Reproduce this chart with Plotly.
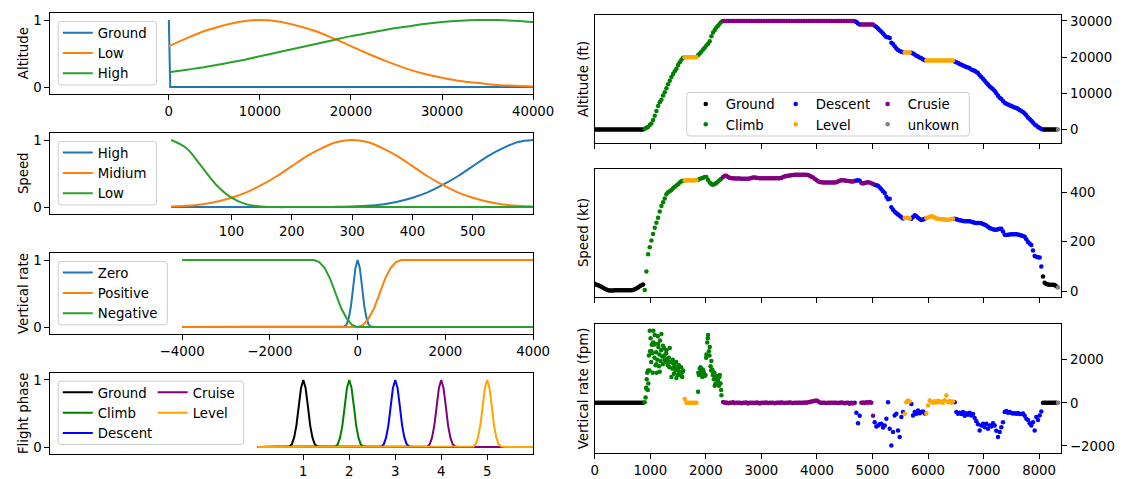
import plotly.graph_objects as go

W, H = 1141, 479
FONT = "DejaVu Sans"
FS = 13.3

# ---------------- Left column: membership functions ----------------
alt_mf_x = [0, 2000, 4000, 6000, 8000, 10000, 12000, 14000, 16000, 18000, 20000,
            22000, 24000, 26000, 28000, 30000, 32000, 34000, 36000, 38000, 40000]
alt_mf_low = [0.61, 0.73, 0.84, 0.92, 0.98, 1.0, 0.98, 0.92, 0.84, 0.73, 0.61,
              0.49, 0.38, 0.28, 0.20, 0.14, 0.09, 0.06, 0.03, 0.02, 0.01]
alt_mf_high = [0.22, 0.26, 0.30, 0.35, 0.40, 0.46, 0.52, 0.58, 0.64, 0.70, 0.76,
               0.81, 0.86, 0.90, 0.94, 0.97, 0.99, 1.0, 1.0, 0.99, 0.97]
alt_mf_ground_x = [0, 150, 40000]
alt_mf_ground = [1.0, 0.0, 0.0]
alt_mf_ticks = [0, 10000, 20000, 30000, 40000]
alt_mf_ticktext = ["0", "10000", "20000", "30000", "40000"]

spd_mf_x = [0, 25, 50, 75, 100, 125, 150, 175, 200, 225, 250, 275, 300,
            325, 350, 375, 400, 425, 450, 475, 500, 525, 550, 575, 600]
spd_mf_high = [0, 0, 0, 0, 0, 0, 0, 0, 0, 0, 0, 0.005, 0.01,
               0.02, 0.04, 0.08, 0.14, 0.22, 0.33, 0.46, 0.61, 0.76, 0.88, 0.97, 1.0]
spd_mf_mid = [0.01, 0.02, 0.04, 0.08, 0.14, 0.22, 0.33, 0.46, 0.61, 0.76, 0.88, 0.97, 1.0,
              0.97, 0.88, 0.76, 0.61, 0.46, 0.33, 0.22, 0.14, 0.08, 0.04, 0.02, 0.01]
spd_mf_low = [1.0, 0.88, 0.61, 0.33, 0.14, 0.04, 0.01, 0, 0, 0, 0, 0, 0,
              0, 0, 0, 0, 0, 0, 0, 0, 0, 0, 0, 0]
spd_mf_ticks = [100, 200, 300, 400, 500]
spd_mf_ticktext = ["100", "200", "300", "400", "500"]

vr_mf_zero_x = [-4000, -400, -350, -300, -250, -200, -150, -100, -50, 0,
                50, 100, 150, 200, 250, 300, 350, 400, 4000]
vr_mf_zero = [0, 0, 0.002, 0.01, 0.04, 0.14, 0.32, 0.61, 0.88, 1.0,
              0.88, 0.61, 0.32, 0.14, 0.04, 0.01, 0.002, 0, 0]
vr_mf_pos_x = [-4000, 0, 125, 250, 375, 500, 625, 750, 875, 1000, 4000]
vr_mf_pos = [0, 0, 0.03, 0.13, 0.28, 0.5, 0.72, 0.88, 0.97, 1.0, 1.0]
vr_mf_neg_x = [-4000, -1000, -875, -750, -625, -500, -375, -250, -125, 0, 4000]
vr_mf_neg = [1.0, 1.0, 0.97, 0.88, 0.72, 0.5, 0.28, 0.13, 0.03, 0, 0]
vr_mf_ticks = [-4000, -2000, 0, 2000, 4000]
vr_mf_ticktext = ["\u22124000", "\u22122000", "0", "2000", "4000"]

phase_mf_peak = [0, 0, 0.01, 0.04, 0.14, 0.32, 0.61, 0.88, 1.0, 0.88, 0.61, 0.32, 0.14, 0.04, 0.01, 0, 0]
phase_mf_ground_x = [0, 0.6, 0.7, 0.75, 0.8, 0.85, 0.9, 0.95, 1.0, 1.05, 1.1, 1.15, 1.2, 1.25, 1.3, 1.4, 6]
phase_mf_climb_x = [0, 1.6, 1.7, 1.75, 1.8, 1.85, 1.9, 1.95, 2.0, 2.05, 2.1, 2.15, 2.2, 2.25, 2.3, 2.4, 6]
phase_mf_descent_x = [0, 2.6, 2.7, 2.75, 2.8, 2.85, 2.9, 2.95, 3.0, 3.05, 3.1, 3.15, 3.2, 3.25, 3.3, 3.4, 6]
phase_mf_cruise_x = [0, 3.6, 3.7, 3.75, 3.8, 3.85, 3.9, 3.95, 4.0, 4.05, 4.1, 4.15, 4.2, 4.25, 4.3, 4.4, 6]
phase_mf_level_x = [0, 4.6, 4.7, 4.75, 4.8, 4.85, 4.9, 4.95, 5.0, 5.05, 5.1, 5.15, 5.2, 5.25, 5.3, 5.4, 6]
phase_mf_ticks = [1, 2, 3, 4, 5]
phase_mf_ticktext = ["1", "2", "3", "4", "5"]

# ---------------- Right column: flight data (30 s samples) ----------------
flight_time = list(range(0, 8341, 30))

altitude_ft = [
    0, 0, 0, 0, 0, 0, 0, 0, 0, 0, 0, 0, 0, 0, 0, 0, 0, 0, 0, 0, 0, 0, 0, 0, 0, 0, 0, 0, 0, 0,
    200, 450, 700, 1200, 1650, 2600, 3800, 5100, 6500, 7500, 8200, 9400, 10300, 11400, 12500,
    13500, 14500, 15300, 16100, 16800, 17800, 18600, 19300, 19800,
    20000, 20000, 20000, 20000, 20000, 20000, 20000, 20000,
    20500, 21000, 21500, 22100, 22600, 23200, 23700, 24400, 25800, 26800, 27500, 28200, 28700, 29200, 29800,
    30000, 30000, 30000, 30000, 30000, 30000, 30000, 30000, 30000, 30000,
    30000, 30000, 30000, 30000, 30000, 30000, 30000, 30000, 30000, 30000,
    30000, 30000, 30000, 30000, 30000, 30000, 30000, 30000, 30000, 30000,
    30000, 30000, 30000, 30000, 30000, 30000, 30000, 30000, 30000, 30000,
    30000, 30000, 30000, 30000, 30000, 30000, 30000, 30000, 30000, 30000,
    30000, 30000, 30000, 30000, 30000, 30000, 30000, 30000, 30000, 30000,
    30000, 30000, 30000, 30000, 30000, 30000, 30000, 30000, 30000, 30000,
    30000, 30000, 30000, 30000, 30000, 30000, 30000, 30000, 30000,
    29900, 29700, 29300, 29000,
    29000, 29000, 29000, 29000, 29000, 29000, 29000, 29000,
    28700, 28300, 27900, 27400, 27000, 26500, 26000, 25600, 25500, 25300, 24000, 23600, 23000,
    22400, 22000, 21700, 21500, 21350,
    21300, 21300, 21300, 21300,
    21200, 21000, 20700, 20400, 20200, 19900, 19700, 19400, 19150,
    19100, 19100, 19100, 19100, 19100, 19100, 19100, 19100, 19100, 19100,
    19100, 19100, 19100, 19100, 19100, 19100, 19100,
    18800, 18600, 18400, 18100, 17900, 17700, 17500, 17300, 17100, 16900,
    16600, 16400, 16200, 15900, 15600, 15000, 14500, 14000, 13500, 12900,
    12400, 11900, 11500, 11100, 10600, 10000, 9300, 8800, 8400, 7900,
    7400, 7100, 6900, 6700, 6500, 6300, 6100, 5900, 5700, 5400,
    5100, 4800, 4400, 3900, 3300, 2900, 2400, 1900, 1400, 1100,
    700, 400, 100,
    0, 0, 0, 0, 0, 0, 0, 0, 0,
    0,
]

speed_kt = [
    31, 27, 24, 21, 18, 14, 10, 7, 4, 3, 3, 3, 4, 4, 4, 4, 4, 4, 4, 4, 4, 4, 4, 5, 8, 11, 15, 20, 24, 28,
    5, 80, 150, 178, 205, 232, 257, 277, 297, 323, 345, 360, 375, 392, 400, 405, 410, 417, 422, 428,
    433, 440, 445, 447,
    448, 448, 449, 449, 448, 448, 449, 449,
    451, 454, 457, 459, 462, 462, 450, 440, 433, 431, 434, 438, 444, 450, 455,
    462, 467, 467, 462, 459, 457, 457, 456, 456, 456,
    456, 455, 455, 455, 455, 455, 456, 458, 460, 460,
    459, 458, 457, 457, 457, 457, 457, 457, 457, 457,
    457, 457, 457, 457, 457, 458, 462, 464, 466, 467,
    468, 469, 470, 471, 471, 471, 471, 471, 471, 471,
    471, 470, 467, 463, 460, 455, 450, 445, 442, 441,
    440, 440, 440, 440, 440, 440, 440, 440, 441, 444,
    447, 449, 449, 448, 447, 446, 445, 444, 444,
    446, 448, 449, 447,
    438, 436, 438, 440, 441, 440, 437, 434,
    431, 429, 427, 420, 413, 405, 397, 382, 372, 374, 340, 330, 322, 316, 311, 305, 299, 294,
    296, 297, 296, 294,
    293, 300, 307, 303, 297, 292, 288, 290, 293,
    296, 298, 301, 303, 302, 298, 294, 293, 292, 291, 291, 290, 289, 289, 290, 292, 293,
    293, 291, 289, 287, 286, 284, 283, 283, 283, 283,
    281, 279, 277, 276, 276, 276, 275, 272, 269, 266,
    261, 256, 253, 251, 249, 249, 251, 253, 253, 242,
    229, 228, 229, 230, 231, 231, 231, 231, 230, 228,
    226, 224, 221, 210, 199, 193, 187, 165, 143, 140,
    138, 137, 100,
    60, 35, 30, 28, 27, 27, 27, 25, 20,
    15,
]

vertical_rate_fpm = [
    0, 0, 0, 0, 0, 0, 0, 0, 0, 0, 0, 0, 0, 0, 0, 0, 0, 0, 0, 0, 0, 0, 0, 0, 0, 0, 0, 0, 0, 0,
    30, 650, 1500, 3350, 2400, 2800, 3150, 1800, 2750, 1450, 3200, 2650, 2000, 2450, 1900, 2550,
    1200, 1850, 1650, 1150, 1600, 1400, 1250, 1500,
    180, 10, 0, 0, 0, 0, 10, 0,
    520, 1600, 1350, 1500, 1250, 2250, 3150, 2600, 1950, 1450, 800, 1200, 1000, 1300, 350,
    40, 0, 20, -20, 10, 0, 30, -10, 0, 10,
    0, -20, 10, 0, 20, -30, 0, 10, 0, -10,
    20, 0, -30, 0, 10, 0, 20, -10, 0, 10,
    0, -20, 0, 10, 0, 20, 0, -10, 10, 0,
    20, 0, -10, 0, 10, 0, 0, 10, 0, 20,
    10, 30, 40, 60, 80, 100, 110, 70, 20, 0,
    10, 0, -10, 0, 10, 0, 0, 10, 0, -10,
    0, 20, 0, -20, 0, 10, -40, 0, -30,
    0, -460, -950, -600,
    0, 20, -10, 30, 0, 40, 10, -600,
    -900, -1100, -1050, -1000, -970, -1150, -1050, -740, 30, -1200, -1980, -1360, -590, -510,
    -1280, -1590, -660, -430,
    -510, 30, 110, 60,
    -50, -590, -430, -510, -350, -480, -430, -400, -500,
    -500, -120, 110, 50, 0, 80, 20, 100, 30, 60, 0, 120, 340, 40, 90, 10, 60,
    30, -430, -510, -460, -520, -430, -600, -480, -550, -460,
    -590, -520, -700, -850, -1000, -1280, -1050, -970, -1130, -970,
    -1200, -1050, -1100, -950, -1050, -1300, -1590, -1360, -1130, -900,
    -430, -380, -460, -430, -470, -500, -480, -510, -470, -520,
    -520, -500, -600, -740, -800, -950, -1050, -900, -1280, -660,
    -800, -590, -400,
    0, 0, 0, 0, 0, 0, 0, 0, 0,
    0,
]

# extra (in-between) vertical-rate readings during the two climbs
climb_vr_extra_time = [
    915, 925, 935, 945, 955, 965, 975, 985, 995, 1005, 1015, 1025, 1035, 1045, 1055, 1065,
    1075, 1085, 1095, 1105, 1115, 1125, 1135, 1145, 1155, 1165, 1175, 1185, 1195, 1215,
    1225, 1245, 1255, 1275, 1285, 1305, 1315, 1335, 1345, 1365, 1395, 1405, 1425, 1435,
    1455, 1465, 1485, 1495, 1515, 1525, 1545, 1555, 1575, 1585,
    1865, 1875, 1905, 1915, 1935, 1945, 1965, 1995, 2005, 2025, 2035, 2055, 2065, 2085,
    2095, 2115, 2125, 2145, 2155, 2175, 2185, 2205, 2215, 2235, 2245, 2265, 2275,
]
climb_vr_extra_fpm = [
    250, 700, 1100, 1400, 600, 900, 2200, 1500, 2400, 3000, 1900, 2700, 2300, 1400, 3350, 2700,
    2100, 2750, 1750, 2350, 1400, 2000, 3100, 2600, 1700, 2250, 2900, 1950, 2450, 2150,
    1800, 2550, 2200, 1900, 2300, 2050, 1750, 2100, 1650, 1900, 1600, 2000, 1350, 1750,
    1500, 1900, 1550, 1300, 1750, 1450, 1350, 1650, 1200, 1450,
    1400, 1300, 1650, 1450, 1200, 1550, 1400, 1300, 2100, 2800, 3000, 2400, 2200, 1700,
    1500, 1550, 1300, 1100, 1400, 900, 1150, 1250, 1050, 800, 1200, 900, 600,
]

# flight phase of each sample, as consecutive runs (phase, number of samples)
phase_runs = [("Ground", 30), ("Climb", 24), ("Level", 8), ("Climb", 15), ("Crusie", 79),
              ("Descent", 4), ("Crusie", 8), ("Descent", 18), ("Level", 4), ("Descent", 9),
              ("Level", 17), ("Descent", 53), ("Ground", 9), ("unkown", 1)]

time_ticks = [0, 1000, 2000, 3000, 4000, 5000, 6000, 7000, 8000]
time_ticktext = ["0", "1000", "2000", "3000", "4000", "5000", "6000", "7000", "8000"]
alt_ticks = [0, 10000, 20000, 30000]
alt_ticktext = ["0", "10000", "20000", "30000"]
spd_ticks = [0, 200, 400]
spd_ticktext = ["0", "200", "400"]
vr_ticks = [-2000, 0, 2000]
vr_ticktext = ["\u22122000", "0", "2000"]

assert len(flight_time) == len(altitude_ft) == len(speed_kt) == len(vertical_rate_fpm), (
    len(flight_time), len(altitude_ft), len(speed_kt), len(vertical_rate_fpm))
assert len(climb_vr_extra_time) == len(climb_vr_extra_fpm)

phase_of_point = []
for name, count in phase_runs:
    phase_of_point += [name] * count
assert len(phase_of_point) == len(flight_time), len(phase_of_point)

# ---------------- styling ----------------
BLUE, ORANGE, GREEN = "#1f77b4", "#ff7f0e", "#2ca02c"
phase_colors = {"Ground": "black", "Climb": "green", "Descent": "blue",
                "Level": "orange", "Crusie": "purple", "unkown": "gray"}
MS = 4.5


def px_x(v):
    return v / W


def px_y(v):
    return 1 - v / H


fig = go.Figure()

LW = 2


def line(x, y, color, name, xa, ya, legend, shape="linear"):
    fig.add_trace(go.Scatter(x=x, y=y, mode="lines", name=name,
                             line=dict(color=color, width=LW, shape=shape),
                             xaxis=xa, yaxis=ya, legend=legend))


# panel 1: altitude
line(alt_mf_ground_x, alt_mf_ground, BLUE, "Ground", "x", "y", "legend")
line(alt_mf_x, alt_mf_low, ORANGE, "Low", "x", "y", "legend", "spline")
line(alt_mf_x, alt_mf_high, GREEN, "High", "x", "y", "legend", "spline")
# panel 2: speed
line(spd_mf_x, spd_mf_high, BLUE, "High", "x2", "y2", "legend2", "spline")
line(spd_mf_x, spd_mf_mid, ORANGE, "Midium", "x2", "y2", "legend2", "spline")
line(spd_mf_x, spd_mf_low, GREEN, "Low", "x2", "y2", "legend2", "spline")
# panel 3: vertical rate
line(vr_mf_zero_x, vr_mf_zero, BLUE, "Zero", "x3", "y3", "legend3")
line(vr_mf_pos_x, vr_mf_pos, ORANGE, "Positive", "x3", "y3", "legend3")
line(vr_mf_neg_x, vr_mf_neg, GREEN, "Negative", "x3", "y3", "legend3")
# panel 4: flight phase
line(phase_mf_ground_x, phase_mf_peak, "black", "Ground", "x4", "y4", "legend4")
line(phase_mf_climb_x, phase_mf_peak, "green", "Climb", "x4", "y4", "legend4")
line(phase_mf_descent_x, phase_mf_peak, "blue", "Descent", "x4", "y4", "legend4")
line(phase_mf_cruise_x, phase_mf_peak, "purple", "Cruise", "x4", "y4", "legend5")
line(phase_mf_level_x, phase_mf_peak, "orange", "Level", "x4", "y4", "legend5")

# right panels: scatter by phase
right_legend = {"Ground": "legend6", "Climb": "legend6", "Descent": "legend7",
                "Level": "legend7", "Crusie": "legend8", "unkown": "legend8"}
for name in ["Ground", "Climb", "Descent", "Level", "Crusie", "unkown"]:
    idx = [i for i, p in enumerate(phase_of_point) if p == name]
    tx = [flight_time[i] for i in idx]
    for series, xa, ya, show in [(altitude_ft, "x5", "y5", True),
                                 (speed_kt, "x6", "y6", False),
                                 (vertical_rate_fpm, "x7", "y7", False)]:
        fig.add_trace(go.Scatter(
            x=tx, y=[series[i] for i in idx], mode="markers", name=name,
            marker=dict(color=phase_colors[name], size=MS, line=dict(width=0)),
            xaxis=xa, yaxis=ya, legendgroup=name, showlegend=show,
            legend=right_legend[name]))
    if name == "Climb":
        fig.add_trace(go.Scatter(
            x=climb_vr_extra_time, y=climb_vr_extra_fpm, mode="markers", name=name,
            marker=dict(color=phase_colors[name], size=MS, line=dict(width=0)),
            xaxis="x7", yaxis="y7", legendgroup=name, showlegend=False,
            legend=right_legend[name]))

# ---------------- axes ----------------
# fonts are inherited from layout.font so that one setting controls every text
axis_common = dict(showline=True, mirror=True, linecolor="black", linewidth=1,
                   ticks="outside", ticklen=5, tickwidth=1, tickcolor="black",
                   showgrid=False, zeroline=False)

LX = [px_x(47.5), px_x(541)]
RX = [px_x(604), px_x(1081)]
left_rows = [(12.5, 94), (134, 215.5), (255.5, 337), (377, 458.5)]
right_rows = [(14, 144), (170, 300), (327, 457.5)]

left_x = [
    dict(range=[-13000, 40000], tickvals=alt_mf_ticks, ticktext=alt_mf_ticktext),
    dict(range=[-200, 600], tickvals=spd_mf_ticks, ticktext=spd_mf_ticktext),
    dict(range=[-7000, 4000], tickvals=vr_mf_ticks, ticktext=vr_mf_ticktext),
    dict(range=[-4.5, 6.0], tickvals=phase_mf_ticks, ticktext=phase_mf_ticktext),
]
layout = {}
for k in range(4):
    top, bot = left_rows[k]
    xn = "xaxis" if k == 0 else f"xaxis{k + 1}"
    yn = "yaxis" if k == 0 else f"yaxis{k + 1}"
    yref = "y" if k == 0 else f"y{k + 1}"
    xref = "x" if k == 0 else f"x{k + 1}"
    layout[xn] = dict(axis_common, domain=LX, anchor=yref, **left_x[k])
    layout[yn] = dict(axis_common, domain=[px_y(bot), px_y(top)], anchor=xref,
                      range=[-0.1, 1.1], tickvals=[0, 1], ticktext=["0", "1"])

right_y = [
    dict(range=[-3800, 31700], tickvals=alt_ticks, ticktext=alt_ticktext),
    dict(range=[-24, 495], tickvals=spd_ticks, ticktext=spd_ticktext),
    dict(range=[-2320, 3670], tickvals=vr_ticks, ticktext=vr_ticktext),
]
for k in range(3):
    top, bot = right_rows[k]
    n = k + 5
    layout[f"xaxis{n}"] = dict(axis_common, domain=RX, anchor=f"y{n}", range=[0, 8400],
                               tickvals=time_ticks, ticktext=time_ticktext,
                               showticklabels=(k == 2))
    layout[f"yaxis{n}"] = dict(axis_common, domain=[px_y(bot), px_y(top)], anchor=f"x{n}",
                               side="right", **right_y[k])

# ---------------- legends ----------------
leg_common = dict(xanchor="left", yanchor="top", bgcolor="rgba(0,0,0,0)", borderwidth=0,
                  xref="paper", yref="paper", traceorder="normal")


def leg(xpx, row1_px):
    return dict(leg_common, x=px_x(xpx), y=px_y(row1_px - 15))


layout["legend"] = leg(55, 31.7)
layout["legend2"] = leg(55, 153.2)
layout["legend3"] = leg(55, 274.7)
layout["legend4"] = leg(55, 396)
layout["legend5"] = leg(152, 396)
layout["legend6"] = leg(697, 104)
layout["legend7"] = leg(789, 104)
layout["legend8"] = leg(883, 104)


def rounded_box(x0, y0, x1, y1, r=3):
    X, Y = px_x, px_y
    return (f"M{X(x0 + r)},{Y(y0)} L{X(x1 - r)},{Y(y0)} Q{X(x1)},{Y(y0)} {X(x1)},{Y(y0 + r)} "
            f"L{X(x1)},{Y(y1 - r)} Q{X(x1)},{Y(y1)} {X(x1 - r)},{Y(y1)} "
            f"L{X(x0 + r)},{Y(y1)} Q{X(x0)},{Y(y1)} {X(x0)},{Y(y1 - r)} "
            f"L{X(x0)},{Y(y0 + r)} Q{X(x0)},{Y(y0)} {X(x0 + r)},{Y(y0)} Z")


boxes = [(55.4, 20.7, 156, 85), (55.4, 142.2, 156, 206.5), (55.4, 263.7, 167, 328),
         (55.4, 385, 245, 449), (698, 92.7, 987, 136.7)]
shapes = [dict(type="path", xref="paper", yref="paper", path=rounded_box(*b),
               line=dict(color="#cccccc", width=1), fillcolor="rgba(255,255,255,0.8)",
               layer="above") for b in boxes]

# ---------------- y titles ----------------
titles = [("Altitude", 20, left_rows[0]), ("Speed", 20, left_rows[1]),
          ("Vertical rate", 20, left_rows[2]), ("Flight phase", 20, left_rows[3]),
          ("Altitude (ft)", 592, right_rows[0]), ("Speed (kt)", 592, right_rows[1]),
          ("Vertical rate (fpm)", 592, right_rows[2])]
annotations = [dict(text=t, x=px_x(xc), y=px_y((r[0] + r[1]) / 2), xref="paper", yref="paper",
                    xanchor="center", yanchor="middle", textangle=-90, showarrow=False)
               for t, xc, r in titles]

# initial size fits inside the default 8px page margin; the page script then
# removes the margin and sizes the figure to fill the browser window exactly
fig.update_layout(width=W - 16, height=H - 16, margin=dict(l=0, r=0, t=0, b=0),
                  paper_bgcolor="white", plot_bgcolor="white",
                  font=dict(family=FONT, size=FS, color="black"),
                  shapes=shapes, annotations=annotations, **layout)

fit_script = (
    "document.body.style.margin='0';"
    "document.documentElement.style.overflow='hidden';"
    "var gd=document.getElementById('{plot_id}');"
    "var w=document.documentElement.clientWidth||window.innerWidth;"
    "var h=document.documentElement.clientHeight||window.innerHeight;"
    "var f=Math.min(w/1141, h/479);"
    "Plotly.relayout(gd, {width: w, height: h, 'font.size': 13.3*f});"
)
fig.write_html("out.html", config={"displayModeBar": False}, post_script=fit_script)
